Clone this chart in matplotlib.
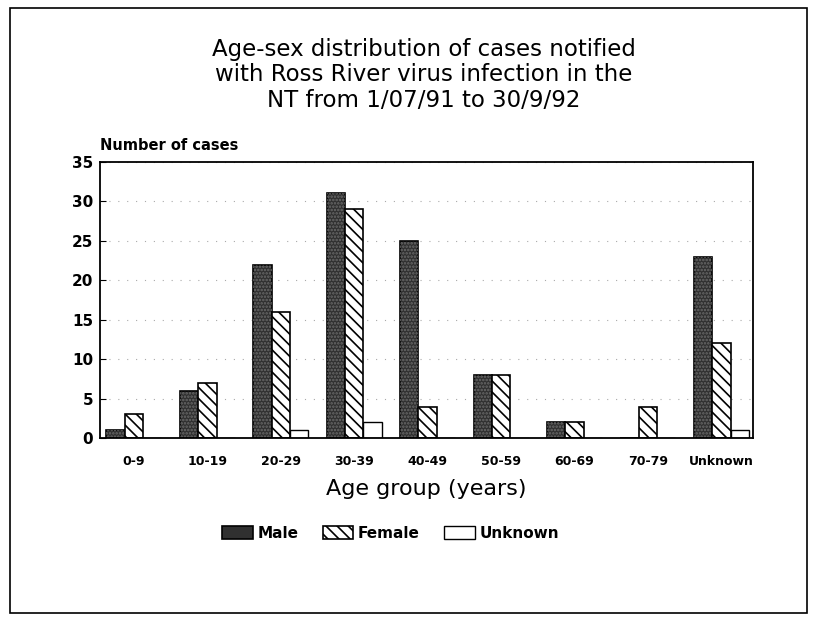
import numpy as np
import matplotlib
matplotlib.use('Agg')
import matplotlib.pyplot as plt
from matplotlib.patches import Rectangle

plt.rcParams['font.family'] = ['DejaVu Sans']
plt.rcParams['hatch.linewidth'] = 1.2

ageGroups = ['0-9', '10-19', '20-29', '30-39', '40-49', '50-59', '60-69', '70-79', 'Unknown']
male = [1, 6, 22, 31, 25, 8, 2, 0, 23]
female = [3, 7, 16, 29, 4, 8, 2, 4, 12]
unknown = [0, 0, 1, 2, 0, 0, 0, 0, 1]

fig = plt.figure(figsize=(8.14, 6.18), dpi=100)
ax = fig.add_axes([0.123, 0.291, 0.802, 0.447])

x = np.arange(len(ageGroups))
w = 0.25
ax.bar(x - w, male, w, color='#303030', edgecolor='black', linewidth=1.2, label='Male')
# stipple texture on the male bars
ax.bar(x - w, male, w, color='none', edgecolor='#6a6a6a', linewidth=0, hatch='.....')
ax.bar(x, female, w, color='white', edgecolor='black', linewidth=1.2, hatch='\\\\\\', label='Female')
ax.bar(x + w, unknown, w, color='white', edgecolor='black', linewidth=1.0, label='Unknown')

ax.set_xlim(-0.46, 8.43)
ax.set_ylim(0, 35)
ax.set_yticks(range(0, 36, 5))
ax.set_xticks(x)
ax.set_xticklabels(ageGroups)
ax.tick_params(axis='x', length=0, pad=12, labelsize=9)
ax.tick_params(axis='y', direction='in', length=4, labelsize=11, pad=5)
for lab in ax.get_xticklabels() + ax.get_yticklabels():
    lab.set_fontweight('bold')
for s in ax.spines.values():
    s.set_linewidth(1.3)

# faint dotted grid (as in the printed original)
ax.yaxis.grid(True, linestyle=(0, (1, 7)), color='#aaaaaa', linewidth=0.8)
ax.set_axisbelow(True)

ax.set_xlabel('Age group (years)', fontsize=16, labelpad=8)
fig.text(0.123, 0.765, 'Number of cases', fontsize=10.5, fontweight='bold', va='center')

fig.text(0.521, 0.879, 'Age-sex distribution of cases notified\nwith Ross River virus infection in the\nNT from 1/07/91 to 30/9/92',
         ha='center', va='center', fontsize=16.5, linespacing=1.15)

ax.legend(loc='center', bbox_to_anchor=(0.48, 0.137), bbox_transform=fig.transFigure,
          ncol=3, frameon=False, handlelength=2.0, handleheight=1.0,
          columnspacing=1.6, handletextpad=0.3, prop={'weight': 'bold', 'size': 11})

# page frame round the figure
fig.add_artist(Rectangle((0.012, 0.008), 0.98, 0.979, transform=fig.transFigure,
                         fill=False, edgecolor='black', linewidth=1.2))

fig.savefig('out.png', dpi=100)
